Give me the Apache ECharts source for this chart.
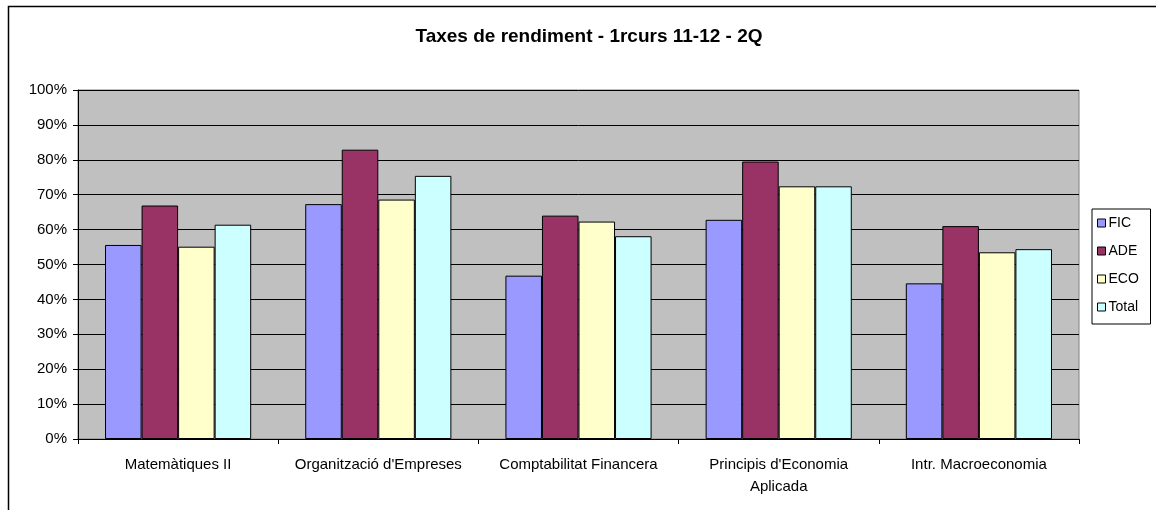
<!DOCTYPE html>
<html>
<head>
<meta charset="utf-8">
<script src="https://cdn.jsdelivr.net/npm/echarts@6/dist/echarts.min.js"></script>
<style>
  html, body { margin: 0; padding: 0; background: #fff; }
  #chart { width: 1156px; height: 510px; }
</style>
</head>
<body>
<div id="chart"></div>
<script>
const categories = [
  "Matemàtiques II",
  "Organització d'Empreses",
  "Comptabilitat Financera",
  "Principis d'Economia\nAplicada",
  "Intr. Macroeconomia",
];
const seriesNames = ["FIC", "ADE", "ECO", "Total"];
const ficValues = [55.6, 67.3, 46.8, 62.8, 44.6];
const adeValues = [66.9, 82.9, 64.0, 79.5, 61.0];
const ecoValues = [55.1, 68.6, 62.3, 72.4, 53.5];
const totalValues = [61.4, 75.4, 58.1, 72.4, 54.4];
const colors = ["#9999ff", "#993366", "#ffffcc", "#ccffff"];

const font = "'Liberation Sans', Arial, sans-serif";

const renderChart = () => {
  const myChart = echarts.init(document.getElementById("chart"));
  const allValues = [ficValues, adeValues, ecoValues, totalValues];

  const series = seriesNames.map((name, i) => ({
    name: name,
    type: "bar",
    data: allValues[i],
    barGap: "0%",
    barCategoryGap: "27%",
    itemStyle: {
      color: colors[i],
      borderColor: "#000",
      borderWidth: 1,
    },
  }));

  const option = {
    animation: false,
    textStyle: { fontFamily: font },
    title: {
      text: "Taxes de rendiment - 1rcurs 11-12 - 2Q",
      left: 584,
      top: 22,
      textAlign: "center",
      textStyle: { fontSize: 19, fontWeight: "bold", color: "#000", fontFamily: font },
    },
    // outer frame of the chart
    graphic: [
      {
        type: "rect",
        shape: { x: 8.5, y: 6.5, width: 1200, height: 600 },
        style: { fill: "none", stroke: "#000", lineWidth: 1.5 },
        silent: true,
      },
    ],
    legend: {
      orient: "vertical",
      left: 1092,
      top: 209,
      data: seriesNames,
      icon: "rect",
      itemWidth: 8,
      itemHeight: 8,
      itemGap: 14,
      padding: [7, 4, 10, 5],
      borderColor: "#000",
      borderWidth: 1,
      itemStyle: { borderColor: "#000", borderWidth: 1 },
      textStyle: {
        fontSize: 14,
        color: "#000",
        lineHeight: 13,
        width: 38,
        padding: [0, 0, 0, -2],
        fontFamily: font,
      },
    },
    grid: {
      left: 78,
      right: 77,
      top: 90,
      bottom: 71,
      show: true,
      backgroundColor: "#c0c0c0",
      borderColor: "#808080",
      borderWidth: 1,
    },
    xAxis: {
      type: "category",
      data: categories,
      axisLine: { lineStyle: { color: "#000", width: 1 } },
      axisTick: { show: true, length: 5, lineStyle: { color: "#000" } },
      axisLabel: {
        color: "#000",
        fontSize: 15,
        margin: 15,
        lineHeight: 22,
        interval: 0,
        fontFamily: font,
      },
    },
    yAxis: {
      type: "value",
      min: 0,
      max: 100,
      interval: 10,
      axisLine: { show: true, lineStyle: { color: "#000", width: 1 } },
      axisTick: { show: true, length: 5, lineStyle: { color: "#000" } },
      splitLine: { lineStyle: { color: "#000", width: 1 } },
      axisLabel: {
        color: "#000",
        fontSize: 15,
        margin: 11,
        formatter: "{value}%",
        fontFamily: font,
      },
    },
    series: series,
  };

  myChart.setOption(option);
};

document.addEventListener("DOMContentLoaded", renderChart);
</script>
</body>
</html>
